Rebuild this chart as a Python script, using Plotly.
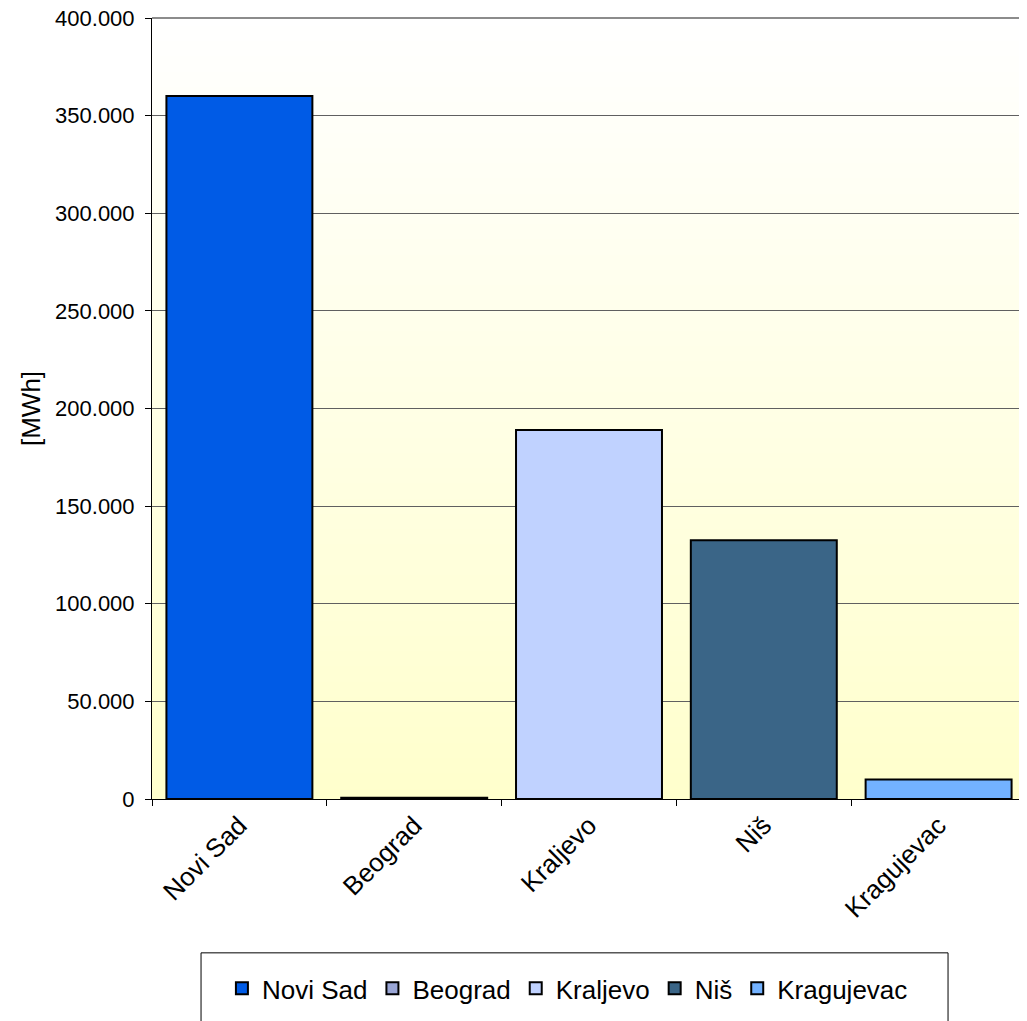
import base64, zlib, struct
import plotly.graph_objects as go

categories = ["Novi Sad", "Beograd", "Kraljevo", "Niš", "Kragujevac"]
values = [360000, 700, 189000, 132500, 10000]
colors = ["#005BE6", "#9AA6D6", "#C0D2FF", "#3A6587", "#73B2FF"]
y_ticks = [0, 50000, 100000, 150000, 200000, 250000, 300000, 350000, 400000]
y_labels = ["0", "50.000", "100.000", "150.000", "200.000", "250.000", "300.000", "350.000", "400.000"]


def gradient_png(h=256):
    raw = b""
    for i in range(h):
        t = i / (h - 1)
        b = int(round(255 - (255 - 204) * t))
        raw += b"\x00" + bytes([255, 255, b])
    def chunk(tag, data):
        c = struct.pack(">I", len(data)) + tag + data
        return c + struct.pack(">I", zlib.crc32(tag + data) & 0xffffffff)
    png = b"\x89PNG\r\n\x1a\n"
    png += chunk(b"IHDR", struct.pack(">IIBBBBB", 1, h, 8, 2, 0, 0, 0))
    png += chunk(b"IDAT", zlib.compress(raw))
    png += chunk(b"IEND", b"")
    return "data:image/png;base64," + base64.b64encode(png).decode()


fig = go.Figure()
for cat, val, col in zip(categories, values, colors):
    fig.add_trace(go.Bar(
        x=[cat], y=[val], name=cat,
        marker=dict(color=col, line=dict(color="#000000", width=2)),
        width=0.835,
    ))

font = "Liberation Sans, Arial, sans-serif"
fig.update_layout(
    width=1019, height=1013,
    margin=dict(l=144, r=1, t=10, b=222, autoexpand=False),
    barmode="overlay",
    paper_bgcolor="white",
    plot_bgcolor="rgba(0,0,0,0)",
    font=dict(family=font, size=22, color="#000000"),
    showlegend=True,
    legend=dict(orientation="h", x=0.08, xanchor="left", y=-0.2125, yanchor="top",
                font=dict(size=26), itemwidth=30, bgcolor="rgba(0,0,0,0)",
                traceorder="normal"),
    images=[dict(source=gradient_png(), xref="paper", yref="paper", x=0, y=1,
                 sizex=1, sizey=1, sizing="stretch", layer="below",
                 xanchor="left", yanchor="top")],
    shapes=[
        dict(type="line", xref="paper", yref="paper", x0=0, x1=1, y0=1, y1=1,
             line=dict(color="#8c8c8c", width=2)),
        dict(type="line", xref="paper", yref="paper", x0=1, x1=1, y0=0, y1=1,
             line=dict(color="#8c8c8c", width=2)),
        dict(type="rect", xref="paper", yref="paper", x0=0.0561, x1=0.9108,
             y0=-0.197, y1=-0.30, line=dict(color="#000000", width=1),
             fillcolor="rgba(0,0,0,0)"),
    ],
)
fig.update_xaxes(
    categoryorder="array", categoryarray=categories,
    tickangle=-45, ticks="outside", ticklen=6, tickcolor="#000000",
    tickson="boundaries", showline=True, linecolor="#000000", linewidth=1,
    showgrid=False, range=[-0.5, 4.5], tickfont=dict(size=26), automargin=False,
)
fig.update_yaxes(
    range=[0, 400000], tickvals=y_ticks, ticktext=y_labels,
    ticks="outside", ticklen=6, tickcolor="#000000",
    ticklabelstandoff=6, ticklabeloverflow="allow", automargin=False,
    showline=True, linecolor="#000000", linewidth=1,
    showgrid=True, gridcolor="#606060", gridwidth=1, zeroline=False,
    title=dict(text="[MWh]", font=dict(size=26), standoff=6),
)
fig.write_html("out.html")
